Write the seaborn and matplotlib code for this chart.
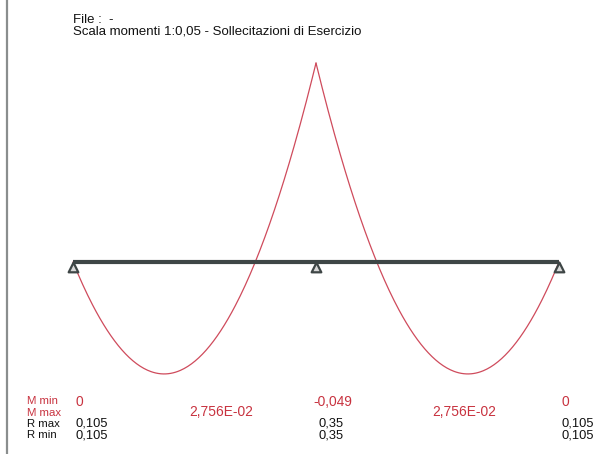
import numpy as np
import pandas as pd
import matplotlib
matplotlib.use("Agg")
import matplotlib.pyplot as plt
from matplotlib.lines import Line2D
from matplotlib.transforms import blended_transform_factory
import seaborn as sns

# Continuous beam on three supports, two equal spans, uniform load
supports = [0.0, 1.4, 2.8]            # support abscissae [m]
load_q = 0.2                          # distributed load
support_moments = [0.0, -0.049, 0.0]  # M min at supports
span_moments = [2.756e-02, 2.756e-02] # M max in spans
reactions_max = [0.105, 0.35, 0.105]
reactions_min = [0.105, 0.35, 0.105]

m_min_labels = ["0", "-0,049", "0"]
m_max_labels = ["2,756E-02", "2,756E-02"]
r_max_labels = ["0,105", "0,35", "0,105"]
r_min_labels = ["0,105", "0,35", "0,105"]
row_labels = ["M min", "M max", "R max", "R min"]

title_lines = ["File :  -", "Scala momenti 1:0,05 - Sollecitazioni di Esercizio"]

# Bending moment diagram from the support moments and the span load
rows = []
for i in range(len(supports) - 1):
    a, b = supports[i], supports[i + 1]
    L = b - a
    t = np.linspace(0.0, L, 200)
    m = (support_moments[i] * (1 - t / L) + support_moments[i + 1] * t / L
         + load_q * t * (L - t) / 2.0)
    rows.append(pd.DataFrame({"x": a + t, "M": m, "span": i}))
diagram = pd.concat(rows, ignore_index=True)
diagram["y"] = -diagram["M"]          # hogging drawn upward

sns.set_style("white")
plt.rcParams["font.family"] = ["Liberation Sans", "DejaVu Sans"]
narrow = ["Liberation Sans Narrow", "Liberation Sans", "DejaVu Sans"]

W, H = 604, 454
fig = plt.figure(figsize=(W / 100, H / 100), dpi=100)
ax = fig.add_axes([0, 0, 1, 1])

# Drawing scales (pixels per metre, pixels per moment unit)
x0_px, y0_px = 73, 262
kx = (559 - 73) / (supports[-1] - supports[0])
ky = 199 / 0.049
ax.set_xlim(-x0_px / kx, (W - x0_px) / kx)
ax.set_ylim(-(H - y0_px) / ky, y0_px / ky)
ax.axis("off")

red_curve = "#cf4b5c"
red_text = "#c8323f"
beam_col = "#3e4646"
dark = "#111111"

for i in range(len(supports) - 1):
    sns.lineplot(data=diagram[diagram["span"] == i], x="x", y="y", ax=ax,
                 color=red_curve, linewidth=0.9, sort=False, zorder=2,
                 legend=False)

# Beam axis
ax.plot([supports[0], supports[-1]], [0, 0], color=beam_col,
        linewidth=3.0, solid_capstyle="butt", zorder=3)

# Pinned supports
sup_df = pd.DataFrame({"x": supports, "y": [-4.5 / ky] * len(supports)})
sns.scatterplot(data=sup_df, x="x", y="y", ax=ax, marker="^", s=48,
                color="#d8d8d8", edgecolor=beam_col, linewidth=1.6,
                zorder=4, legend=False)

# Left frame rule
fig.add_artist(Line2D([7.5 / W, 7.5 / W], [0, 1], transform=fig.transFigure,
                      color="#8a8e8e", linewidth=1.6))

# Header
for j, line in enumerate(title_lines):
    fig.text(73 / W, 1 - (20 + 12 * j) / H, line, fontsize=9.5,
             color=dark, ha="left", va="center")

# Result table under the diagram
fs_row, fs_val, fs_red = 8.2, 9.3, 9.9
row_y = [401.5, 412.5, 424, 435]
row_col = [red_text, red_text, dark, dark]
for lab, yy, c in zip(row_labels, row_y, row_col):
    fig.text(27 / W, 1 - yy / H, lab, fontsize=fs_row, color=c,
             family=narrow, ha="left", va="center")

tr = blended_transform_factory(ax.transData, fig.transFigure)
dx = 2.5 / kx
for k, s in enumerate(supports):
    off = -3.0 / kx if m_min_labels[k].startswith("-") else dx
    ax.text(s + off, 1 - row_y[0] / H, m_min_labels[k], transform=tr,
            fontsize=fs_red, color=red_text, ha="left", va="center")
    ax.text(s + dx, 1 - row_y[2] / H, r_max_labels[k], transform=tr,
            fontsize=fs_val, color=dark, ha="left", va="center")
    ax.text(s + dx, 1 - row_y[3] / H, r_min_labels[k], transform=tr,
            fontsize=fs_val, color=dark, ha="left", va="center")

for i, lab in enumerate(m_max_labels):
    a, b = supports[i], supports[i + 1]
    ax.text(a + 0.48 * (b - a), 1 - row_y[1] / H, lab, transform=tr,
            fontsize=fs_red, color=red_text, ha="left", va="center")

fig.savefig("out.png", dpi=100, facecolor="white")
